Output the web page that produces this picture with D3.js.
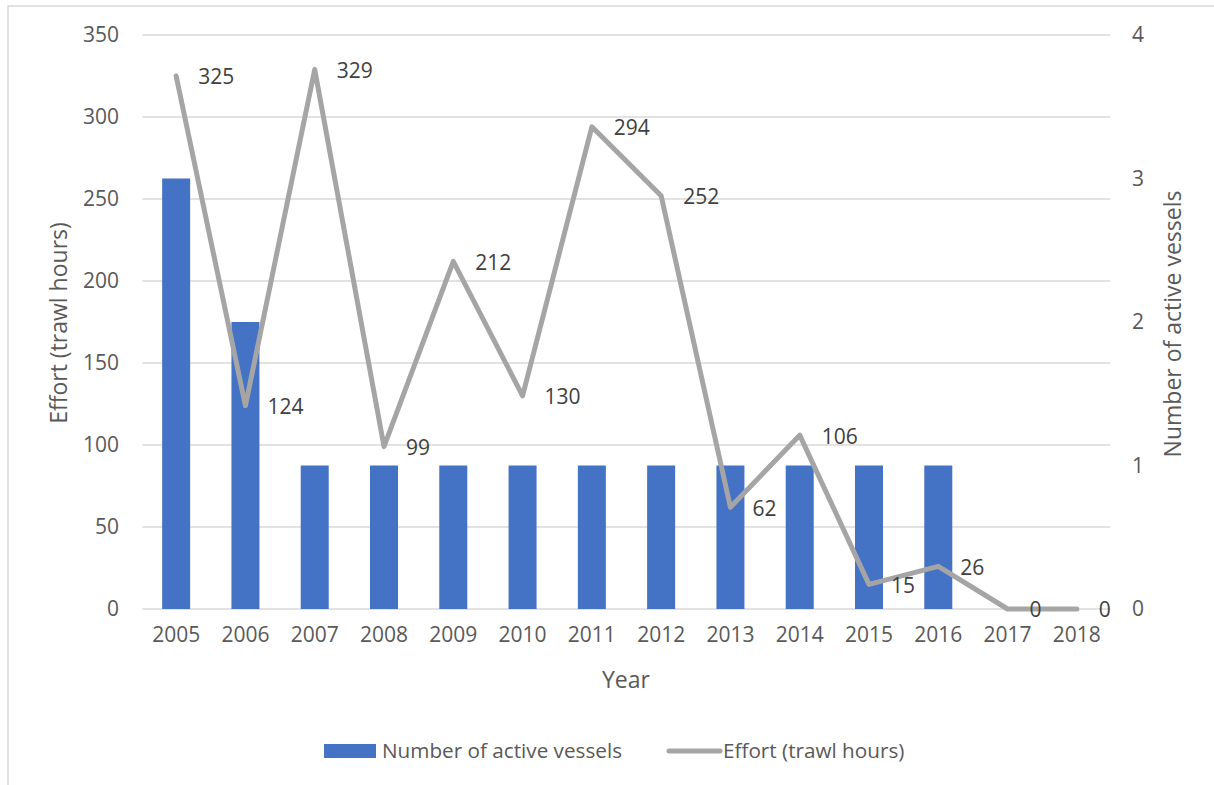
<!DOCTYPE html>
<html>
<head>
<meta charset="utf-8">
<script src="https://cdn.jsdelivr.net/npm/d3@7/dist/d3.min.js"></script>
<style>
  html, body { margin: 0; padding: 0; background: #fff; }
  svg { display: block; font-family: "Open Sans", sans-serif; }
</style>
</head>
<body>
<svg id="chart" width="1214" height="785"></svg>
<script>
// Fishing activity by year
const years = ["2005","2006","2007","2008","2009","2010","2011","2012","2013","2014","2015","2016","2017","2018"];
const vessels = [3, 2, 1, 1, 1, 1, 1, 1, 1, 1, 1, 1, 0, 0];
const effort = [325, 124, 329, 99, 212, 130, 294, 252, 62, 106, 15, 26, 0, 0];
const effortTicks = [0, 50, 100, 150, 200, 250, 300, 350];
const vesselTicks = [0, 1, 2, 3, 4];

const svg = d3.select("#chart");

const plot = { left: 141.5, right: 1111.5, top: 35, bottom: 609 };
const tickFont = "21px";
const titleFont = "23px";

// outer chart frame (right and bottom edges fall outside the page)
svg.append("rect")
  .attr("x", 8).attr("y", 6)
  .attr("width", 1300).attr("height", 900)
  .attr("fill", "none").attr("stroke", "#d9d9d9").attr("stroke-width", 1.5);

const x = d3.scaleBand().domain(years).range([plot.left, plot.right]).padding(0);
const yLeft = d3.scaleLinear().domain([0, 350]).range([plot.bottom, plot.top]);
const yRight = d3.scaleLinear().domain([0, 4]).range([plot.bottom, plot.top]);

// horizontal gridlines on the effort scale
svg.append("g")
  .selectAll("line")
  .data(effortTicks)
  .join("line")
  .attr("x1", plot.left + 1).attr("x2", plot.right - 1.5)
  .attr("y1", d => yLeft(d)).attr("y2", d => yLeft(d))
  .attr("stroke", "#d9d9d9").attr("stroke-width", 1.5);

// left axis labels
const leftAxis = d3.axisLeft(yLeft).tickValues(effortTicks).tickSize(0).tickPadding(0);
const gl = svg.append("g").attr("transform", `translate(119,0)`).call(leftAxis);
gl.select(".domain").remove();
gl.selectAll("text").attr("fill", "#595959").style("font-size", tickFont)
  .style("font-family", "'Open Sans', sans-serif");

// right axis labels
const rightAxis = d3.axisRight(yRight).tickValues(vesselTicks).tickSize(0).tickPadding(0)
  .tickFormat(d3.format("d"));
const gr = svg.append("g").attr("transform", `translate(1132,0)`).call(rightAxis);
gr.select(".domain").remove();
gr.selectAll("text").attr("fill", "#595959").style("font-size", tickFont)
  .style("font-family", "'Open Sans', sans-serif");

// category axis labels
const bottomAxis = d3.axisBottom(x).tickSize(0).tickPadding(0);
const gb = svg.append("g").attr("transform", `translate(0,${plot.bottom + 18})`).call(bottomAxis);
gb.select(".domain").remove();
gb.selectAll("text").attr("fill", "#595959").style("font-size", tickFont)
  .style("font-family", "'Open Sans', sans-serif");

// vessel bars (right scale)
const barW = 28;
svg.append("g")
  .selectAll("rect")
  .data(years.map((y, i) => ({ year: y, v: vessels[i] })))
  .join("rect")
  .attr("x", d => x(d.year) + x.bandwidth() / 2 - barW / 2)
  .attr("width", barW)
  .attr("y", d => yRight(d.v))
  .attr("height", d => yRight(0) - yRight(d.v))
  .attr("fill", "#4472c4");

// effort line (left scale)
const pts = years.map((y, i) => ({ year: y, v: effort[i] }));
const line = d3.line()
  .x(d => x(d.year) + x.bandwidth() / 2)
  .y(d => yLeft(d.v));
svg.append("path")
  .datum(pts)
  .attr("d", line)
  .attr("fill", "none")
  .attr("stroke", "#a5a5a5")
  .attr("stroke-width", 5)
  .attr("stroke-linejoin", "round")
  .attr("stroke-linecap", "round");

// value labels to the right of each point
svg.append("g")
  .selectAll("text")
  .data(pts)
  .join("text")
  .attr("x", d => x(d.year) + x.bandwidth() / 2 + 22)
  .attr("y", d => yLeft(d.v) + 1)
  .attr("dy", "0.35em")
  .attr("fill", "#404040")
  .style("font-size", tickFont)
  .text(d => d.v);

// axis titles
svg.append("text")
  .attr("transform", "translate(67,323) rotate(-90)")
  .attr("text-anchor", "middle")
  .attr("fill", "#595959").style("font-size", titleFont)
  .text("Effort (trawl hours)");

svg.append("text")
  .attr("transform", "translate(1181,324) rotate(-90)")
  .attr("text-anchor", "middle")
  .attr("fill", "#595959").style("font-size", titleFont)
  .text("Number of active vessels");

svg.append("text")
  .attr("x", 626).attr("y", 688)
  .attr("text-anchor", "middle")
  .attr("fill", "#595959").style("font-size", titleFont)
  .text("Year");

// legend
const legend = svg.append("g");
legend.append("rect")
  .attr("x", 324).attr("y", 744).attr("width", 52).attr("height", 14)
  .attr("fill", "#4472c4");
legend.append("text")
  .attr("x", 382).attr("y", 751).attr("dy", "0.35em")
  .attr("fill", "#595959").style("font-size", "20.7px")
  .text("Number of active vessels");
legend.append("line")
  .attr("x1", 669).attr("x2", 720).attr("y1", 751).attr("y2", 751)
  .attr("stroke", "#a5a5a5").attr("stroke-width", 5).attr("stroke-linecap", "round");
legend.append("text")
  .attr("x", 723).attr("y", 751).attr("dy", "0.35em")
  .attr("fill", "#595959").style("font-size", "20.7px")
  .text("Effort (trawl hours)");
</script>
</body>
</html>
